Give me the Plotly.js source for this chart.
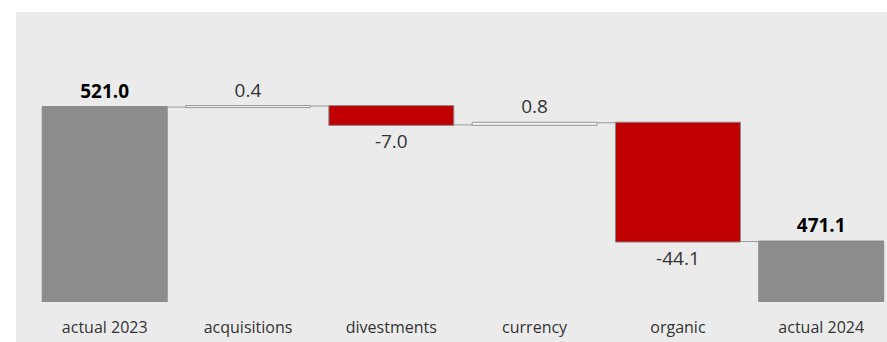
<!DOCTYPE html>
<html>
<head>
<meta charset="utf-8">
<script src="https://cdn.plot.ly/plotly-3.0.1.min.js"></script>
<style>
  html, body { margin: 0; padding: 0; background: #ffffff; width: 887px; height: 342px; overflow: hidden; }
  #chart { position: absolute; left: 16px; top: 12px; width: 871px; height: 330px; }
</style>
</head>
<body>
<div id="chart"></div>
<script>
const categories = ["actual 2023", "acquisitions", "divestments", "currency", "organic", "actual 2024"];
const measures = ["absolute", "relative", "relative", "relative", "relative", "total"];
const values = [521.0, 0.4, -7.0, 0.8, -44.1, 0];
const textTemplates = ["<b>%{final:.1f}</b>", "%{delta:.1f}", "%{delta:.1f}", "%{delta:.1f}", "%{delta:.1f}", "<b>%{final:.1f}</b>"];
const textColors = ["#000000", "#333333", "#333333", "#333333", "#333333", "#000000"];

const trace = {
  type: "waterfall",
  x: categories,
  y: values,
  measure: measures,
  width: 0.872,
  texttemplate: textTemplates,
  textposition: "outside",
  cliponaxis: false,
  textfont: { family: "Open Sans, sans-serif", size: 19, color: textColors },
  totals: { marker: { color: "#8c8c8c", line: { color: "#888888", width: 1 } } },
  increasing: { marker: { color: "#f2f2f2", line: { color: "#999999", width: 1 } } },
  decreasing: { marker: { color: "#c00000", line: { color: "#888888", width: 1 } } },
  connector: { mode: "between", line: { color: "#9a9a9a", width: 1 } },
  hoverinfo: "none"
};

const layout = {
  width: 871,
  height: 330,
  margin: { l: 0, r: 0, t: 0, b: 40 },
  paper_bgcolor: "#ebebeb",
  plot_bgcolor: "#ebebeb",
  showlegend: false,
  xaxis: {
    type: "category",
    range: [-0.619, 5.459],
    showgrid: false,
    zeroline: false,
    showline: false,
    ticks: "outside",
    ticklen: 11,
    tickcolor: "rgba(0,0,0,0)",
    tickfont: { family: "Open Sans, sans-serif", size: 16, color: "#333333" }
  },
  yaxis: {
    range: [448.66, 556.3],
    showgrid: false,
    zeroline: false,
    showline: false,
    showticklabels: false,
    ticks: ""
  }
};

Plotly.newPlot("chart", [trace], layout, { displayModeBar: false, staticPlot: true });
</script>
</body>
</html>
